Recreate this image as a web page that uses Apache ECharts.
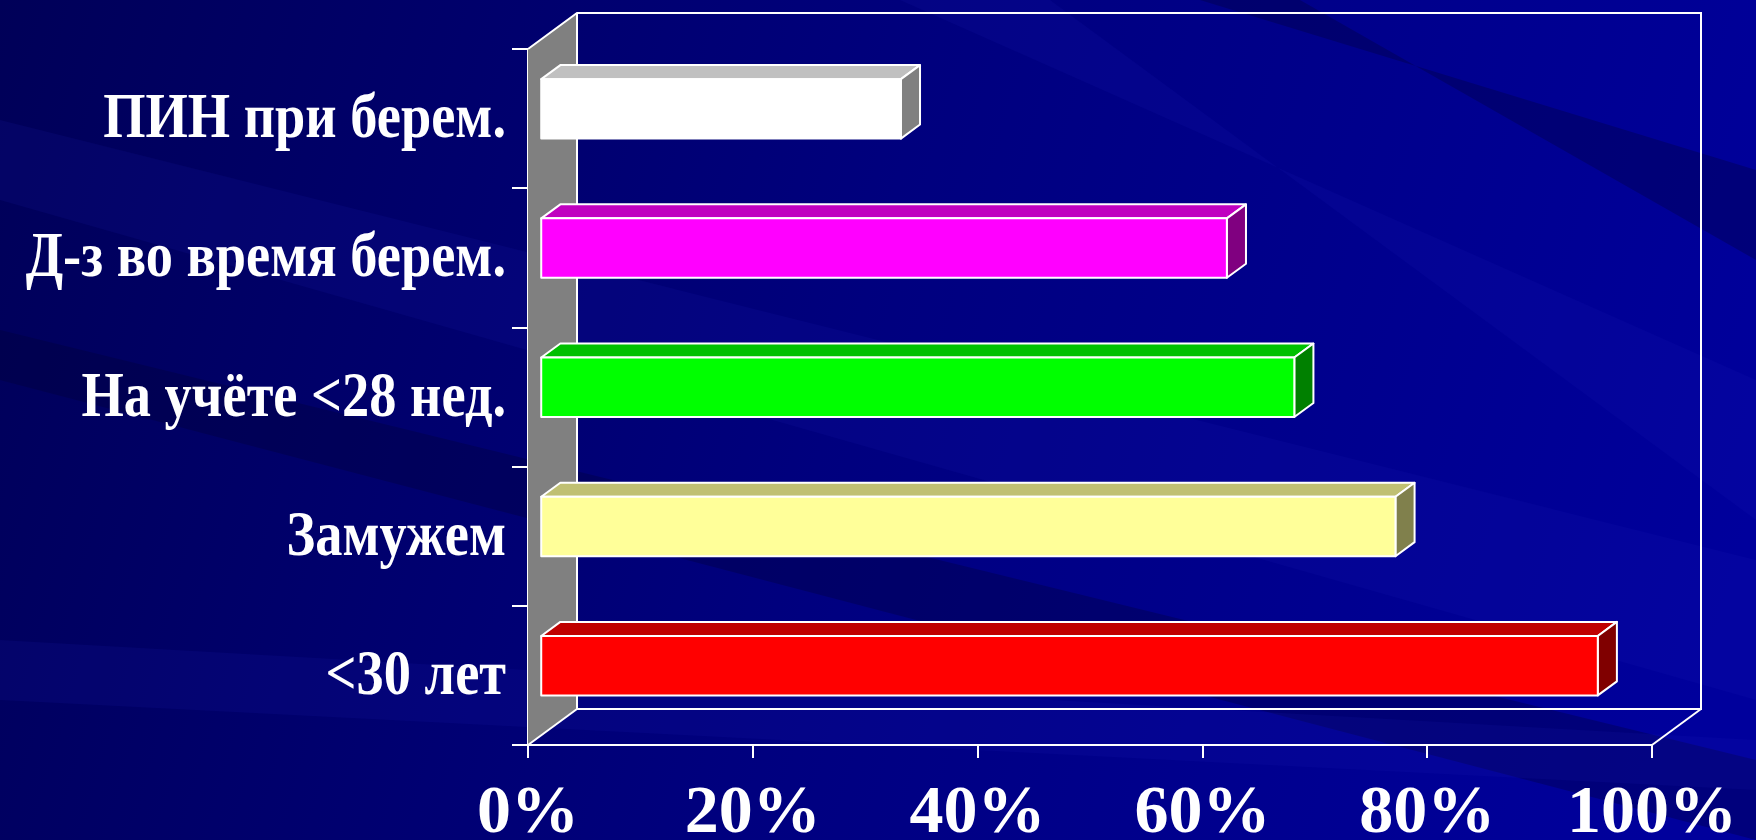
<!DOCTYPE html>
<html>
<head>
<meta charset="utf-8">
<script src="https://cdn.jsdelivr.net/npm/echarts@6/dist/echarts.min.js"></script>
<style>
  html, body { margin: 0; padding: 0; background: #000070; }
  #main { width: 1756px; height: 840px; }
</style>
</head>
<body>
<div id="main"></div>
<script>
// categories top to bottom
var categories = ["ПИН при берем.", "Д-з во время берем.", "На учёте <28 нед.", "Замужем", "<30 лет"];
// percent values
var values = [32, 61, 67, 76, 94];

// front / top / side colours of each bar
var palette = [
  ["#ffffff", "#c0c0c0", "#808080"],
  ["#ff00ff", "#c000c0", "#800080"],
  ["#00ff00", "#00c000", "#008000"],
  ["#ffff99", "#c0c073", "#80804c"],
  ["#ff0000", "#c00000", "#800000"]
];

var DX = 49, DY = -36;         // depth of the 3d box
var FRONT = 0.27, BACK = 0.66; // bar position inside depth
var font = '"Liberation Serif", "Times New Roman", serif';

var chart = echarts.init(document.getElementById("main"));

function frameItem(params, api) {
  var c = params.coordSys;
  var x0 = c.x, y0 = c.y, x1 = c.x + c.width, y1 = c.y + c.height;
  var line = { stroke: "#fff", lineWidth: 2, fill: null };
  return {
    type: "group",
    children: [
      { type: "polygon", shape: { points: [[x0, y0], [x0 + DX, y0 + DY], [x0 + DX, y1 + DY], [x0, y1]] },
        style: { fill: "#808080", stroke: null } },
      { type: "polyline", shape: { points: [[x0, y0], [x0 + DX, y0 + DY], [x1 + DX, y0 + DY], [x1 + DX, y1 + DY], [x0 + DX, y1 + DY], [x0 + DX, y0 + DY]] },
        style: line },
      { type: "polyline", shape: { points: [[x0, y1], [x0 + DX, y1 + DY]] }, style: line },
      { type: "polyline", shape: { points: [[x1, y1], [x1 + DX, y1 + DY]] }, style: line }
    ]
  };
}

function barItem(params, api) {
  var idx = api.value(0);
  var v = api.value(1);
  var p0 = api.coord([0, idx]);
  var p1 = api.coord([v, idx]);
  var band = api.size([0, 1])[1];
  var h = band * 0.427 / 2;
  var fdx = DX * FRONT, fdy = DY * FRONT;
  var ddx = DX * (BACK - FRONT), ddy = DY * (BACK - FRONT);
  var xa = p0[0] + fdx, xb = p1[0] + fdx;
  var yt = p0[1] + fdy - h, yb = p0[1] + fdy + h;
  var col = palette[idx];
  var edge = { stroke: "#fff", lineWidth: 2, lineJoin: "round" };
  return {
    type: "group",
    children: [
      { type: "polygon", shape: { points: [[xa, yt], [xb, yt], [xb + ddx, yt + ddy], [xa + ddx, yt + ddy]] },
        style: Object.assign({ fill: col[1] }, edge) },
      { type: "polygon", shape: { points: [[xb, yt], [xb + ddx, yt + ddy], [xb + ddx, yb + ddy], [xb, yb]] },
        style: Object.assign({ fill: col[2] }, edge) },
      { type: "rect", shape: { x: xa, y: yt, width: xb - xa, height: yb - yt },
        style: Object.assign({ fill: col[0] }, edge) }
    ]
  };
}

// category labels, drawn narrow like the original condensed type
function labelItem(params, api) {
  var idx = api.value(0);
  var p = api.coord([0, idx]);
  return {
    type: "text", x: p[0] - 22, y: p[1] + 2, scaleX: 0.85,
    style: { text: categories[idx], fill: "#fff", align: "right", verticalAlign: "middle",
      font: "bold 64px " + font }
  };
}

// decorative background streaks
var streaks = [
  [[0, 120], [0, 200], [1756, 700], [1756, 560]],
  [[0, 330], [0, 380], [1756, 840], [1756, 760]],
  [[900, 0], [1050, 0], [1756, 520], [1756, 380]],
  [[1200, 0], [1300, 0], [1756, 260], [1756, 170]],
  [[0, 640], [0, 700], [1756, 790], [1756, 740]]
].map(function (pts, i) {
  return { type: "polygon", silent: true, z: -10, shape: { points: pts },
    style: { fill: i % 2 ? "rgba(0,0,50,0.3)" : "rgba(30,30,190,0.12)" } };
});

var option = {
  backgroundColor: {
    type: "linear", x: 0, y: 0, x2: 1, y2: 0.6,
    colorStops: [{ offset: 0, color: "#000058" }, { offset: 0.5, color: "#00007e" }, { offset: 1, color: "#00009c" }]
  },
  animation: false,
  graphic: streaks,
  grid: { left: 528, right: 104, top: 49, bottom: 95, containLabel: false, outerBoundsMode: "none" },
  xAxis: {
    type: "value", min: 0, max: 100, interval: 20,
    axisLine: { show: true, lineStyle: { color: "#fff", width: 2 } },
    axisTick: { show: true, length: 13, lineStyle: { color: "#fff", width: 2 } },
    splitLine: { show: false },
    axisLabel: { color: "#fff", fontFamily: font, fontWeight: "bold", fontSize: 68, margin: 35,
      formatter: "{value}%" }
  },
  yAxis: {
    type: "category", data: categories, inverse: true,
    axisLine: { show: true, lineStyle: { color: "#fff", width: 2 } },
    axisTick: { show: true, length: 16, lineStyle: { color: "#fff", width: 2 } },
    axisLabel: { show: false }
  },
  series: [
    { type: "custom", name: "frame", renderItem: frameItem, data: [[0, 0]], z: 1, silent: true },
    { type: "custom", name: "bars", renderItem: barItem, z: 3,
      encode: { x: 1, y: 0 },
      data: values.map(function (v, i) { return [i, v]; }) },
    { type: "custom", name: "labels", renderItem: labelItem, z: 4, silent: true,
      data: categories.map(function (c, i) { return [i, 0]; }) }
  ]
};
chart.setOption(option);
</script>
</body>
</html>
